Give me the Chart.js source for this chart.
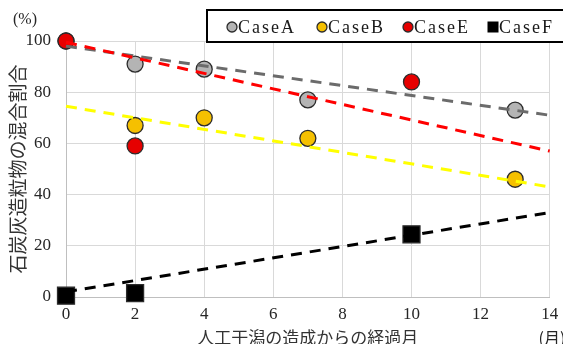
<!DOCTYPE html>
<html>
<head>
<meta charset="utf-8">
<script src="https://cdn.jsdelivr.net/npm/chart.js@4.4.1/dist/chart.umd.min.js"></script>
<style>
html, body { margin: 0; padding: 0; background: #fff; }
#wrap { width: 563px; height: 344px; }
</style>
</head>
<body>
<div id="wrap"><canvas id="chart"></canvas></div>
<script>
'use strict';

// 系列名
const SERIES_NAMES = ['CaseA', 'CaseB', 'CaseE', 'CaseF'];
// 経過月と混合割合(%)
const CASE_A_X = [0, 2, 4, 7, 13];
const CASE_A_Y = [100, 91, 89, 77, 73];
const CASE_B_X = [2, 4, 7, 13];
const CASE_B_Y = [67, 70, 62, 46];
const CASE_E_X = [0, 2, 10];
const CASE_E_Y = [100, 59, 84];
const CASE_F_X = [0, 2, 10];
const CASE_F_Y = [0.5, 1.5, 24.5];
// 近似直線（0ヶ月と14ヶ月の値）
const TREND_X = [0, 14];
const TREND_A = [98, 71];
const TREND_B = [74.5, 43];
const TREND_E = [99.5, 57];
const TREND_F = [2, 33];
// 軸目盛
const X_TICKS = [0, 2, 4, 6, 8, 10, 12, 14];
const Y_TICKS = [0, 20, 40, 60, 80, 100];
// 軸タイトル
const X_TITLE = '人工干潟の造成からの経過月';
const Y_TITLE = '石炭灰造粒物の混合割合';
const X_UNIT = '(月)';
const Y_UNIT = '(%)';

const SERIF = "'Liberation Serif', 'Times New Roman', serif";
const CJK = "'Noto Sans CJK JP', 'Noto Sans', sans-serif";

/**
 * x配列とy配列から点データを作る
 */
function toPoints(xs, ys) {
    return xs.map((x, i) => ({ x: x, y: ys[i] }));
}

/**
 * 散布点のデータセット
 */
function pointSet(label, xs, ys, color, style, radius, order) {
    return {
        type: 'scatter',
        label: label,
        data: toPoints(xs, ys),
        backgroundColor: color,
        borderColor: '#2b2b2b',
        borderWidth: 1.3,
        pointStyle: style,
        pointRadius: radius,
        pointHoverRadius: radius,
        clip: false,
        order: order
    };
}

/**
 * 近似直線（破線）のデータセット
 */
function trendSet(ys, color) {
    return {
        type: 'line',
        label: '',
        data: toPoints(TREND_X, ys),
        borderColor: color,
        borderWidth: 3,
        borderDash: [11, 8],
        pointRadius: 0,
        fill: false,
        clip: false,
        order: 0
    };
}

// 凡例と単位ラベルを描くプラグイン
const extrasPlugin = {
    id: 'extras',
    afterDraw(chart) {
        const ctx = chart.ctx;
        ctx.save();
        // 単位
        ctx.fillStyle = '#262626';
        ctx.font = '16px ' + SERIF;
        ctx.textAlign = 'center';
        ctx.textBaseline = 'middle';
        ctx.fillText(Y_UNIT, 25, 20);
        ctx.font = '16px ' + CJK;
        ctx.fillText(X_UNIT, 552, 338);

        // 凡例枠
        ctx.fillStyle = '#fff';
        ctx.fillRect(207, 10, 360, 32);
        ctx.strokeStyle = '#000';
        ctx.lineWidth = 2;
        ctx.strokeRect(207, 10, 360, 32);

        // 凡例項目
        const items = chart.data.datasets.filter(ds => ds.type === 'scatter');
        const starts = [232, 322, 408, 493];
        ctx.font = '18px ' + SERIF;
        ctx.textAlign = 'left';
        ctx.letterSpacing = '2px';
        items.forEach((ds, i) => {
            const cx = starts[i];
            const cy = 27;
            ctx.fillStyle = ds.backgroundColor;
            ctx.strokeStyle = '#2b2b2b';
            ctx.lineWidth = 1.3;
            if (ds.pointStyle === 'rect') {
                ctx.fillStyle = '#000';
                ctx.fillRect(cx - 5.5, cy - 5.5, 11, 11);
            } else {
                ctx.beginPath();
                ctx.arc(cx, cy, 5, 0, Math.PI * 2);
                ctx.fill();
                ctx.stroke();
            }
            ctx.fillStyle = '#1a1a1a';
            ctx.fillText(ds.label, cx + 6, cy + 1);
        });
        ctx.restore();
    }
};

const config = {
    type: 'scatter',
    data: {
        datasets: [
            trendSet(TREND_E, '#ff0000'),
            trendSet(TREND_A, '#6b6b6b'),
            trendSet(TREND_B, '#ffff00'),
            trendSet(TREND_F, '#000000'),
            pointSet(SERIES_NAMES[0], CASE_A_X, CASE_A_Y, '#b4b4b4', 'circle', 8, 4),
            pointSet(SERIES_NAMES[1], CASE_B_X, CASE_B_Y, '#f5c000', 'circle', 8, 3),
            pointSet(SERIES_NAMES[2], CASE_E_X, CASE_E_Y, '#e60000', 'circle', 8, 2),
            pointSet(SERIES_NAMES[3], CASE_F_X, CASE_F_Y, '#000000', 'rect', 12, 1)
        ]
    },
    options: {
        responsive: true,
        maintainAspectRatio: false,
        animation: false,
        layout: { padding: { top: 41, right: 0, left: 0, bottom: 0 } },
        plugins: {
            legend: { display: false },
            tooltip: { enabled: false }
        },
        scales: {
            x: {
                type: 'linear',
                min: 0,
                max: 14,
                afterBuildTicks: axis => { axis.ticks = X_TICKS.map(v => ({ value: v })); },
                afterFit: axis => {
                    axis.height = 47;
                    axis.paddingRight = 8;
                },
                ticks: {
                    font: { family: SERIF, size: 17 },
                    color: '#262626',
                    padding: 7
                },
                grid: { color: '#d9d9d9', drawTicks: false },
                border: { color: '#bfbfbf' },
                title: {
                    display: true,
                    text: X_TITLE,
                    font: { family: CJK, size: 17 },
                    color: '#333',
                    padding: { top: 0, bottom: -4 }
                }
            },
            y: {
                type: 'linear',
                min: 0,
                max: 100,
                afterBuildTicks: axis => { axis.ticks = Y_TICKS.map(v => ({ value: v })); },
                afterFit: axis => { axis.width = 66; },
                ticks: {
                    font: { family: SERIF, size: 17 },
                    color: '#262626',
                    padding: 15
                },
                grid: { color: '#d9d9d9', drawTicks: false },
                border: { color: '#bfbfbf' },
                title: {
                    display: true,
                    text: Y_TITLE,
                    font: { family: CJK, size: 19 },
                    color: '#333',
                    padding: { top: 6, bottom: 0 }
                }
            }
        }
    },
    plugins: [extrasPlugin]
};

const chart = new Chart(document.getElementById('chart'), config);
</script>
</body>
</html>
